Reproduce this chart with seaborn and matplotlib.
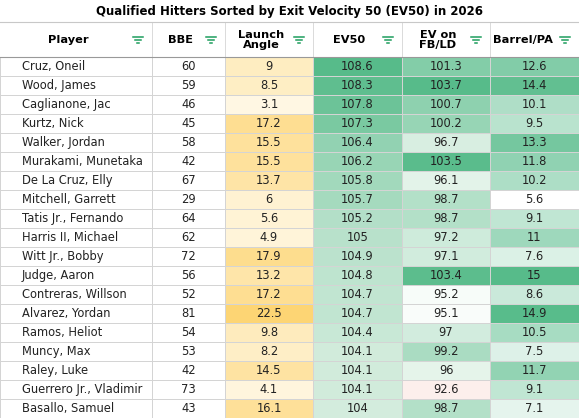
import matplotlib
matplotlib.use("Agg")
import matplotlib.pyplot as plt
import seaborn as sns
import numpy as np
import pandas as pd
from matplotlib.colors import LinearSegmentedColormap, ListedColormap
from matplotlib.lines import Line2D

players = ["Cruz, Oneil","Wood, James","Caglianone, Jac","Kurtz, Nick","Walker, Jordan",
           "Murakami, Munetaka","De La Cruz, Elly","Mitchell, Garrett","Tatis Jr., Fernando",
           "Harris II, Michael","Witt Jr., Bobby","Judge, Aaron","Contreras, Willson",
           "Alvarez, Yordan","Ramos, Heliot","Muncy, Max","Raley, Luke",
           "Guerrero Jr., Vladimir","Basallo, Samuel"]
bbe = [60,59,46,45,58,42,67,29,64,62,72,56,52,81,54,53,42,73,43]
launch = [9,8.5,3.1,17.2,15.5,15.5,13.7,6,5.6,4.9,17.9,13.2,17.2,22.5,9.8,8.2,14.5,4.1,16.1]
ev50 = [108.6,108.3,107.8,107.3,106.4,106.2,105.8,105.7,105.2,105,104.9,104.8,104.7,104.7,104.4,104.1,104.1,104.1,104]
evfb = [101.3,103.7,100.7,100.2,96.7,103.5,96.1,98.7,98.7,97.2,97.1,103.4,95.2,95.1,97,99.2,96,92.6,98.7]
barrel = [12.6,14.4,10.1,9.5,13.3,11.8,10.2,5.6,9.1,11,7.6,15,8.6,14.9,10.5,7.5,11.7,9.1,7.1]
headers = ["Player","BBE","Launch\nAngle","EV50","EV on\nFB/LD","Barrel/PA"]
title = "Qualified Hitters Sorted by Exit Velocity 50 (EV50) in 2026"

W, H = 579, 419
fig = plt.figure(figsize=(W/100, H/100), dpi=100)
edges = [0,152,225,313,402,490,579]
top, bot = 57, 418
n = len(players)

def fmt(v):
    return f"{v:g}"

white = ListedColormap(["#ffffff"])
cmaps = [
    (white, None, None),
    (white, None, None),
    (LinearSegmentedColormap.from_list("la", ["#fff7e3", "#fdd574"]), 3.1, 22.5),
    (LinearSegmentedColormap.from_list("ev", ["#d3ecdd", "#57bb8a"]), 104, 108.6),
    (LinearSegmentedColormap.from_list("fb", [(0, "#fcefec"), (0.2, "#ffffff"), (0.3, "#e6f4eb"), (1, "#57bb8a")]), 92.6, 103.7),
    (LinearSegmentedColormap.from_list("br", ["#ffffff", "#57bb8a"]), 5.6, 15),
]
cols = [None, bbe, launch, ev50, evfb, barrel]

for j in range(6):
    x0, x1 = edges[j], edges[j+1]
    ax = fig.add_axes([x0/W, 1-bot/H, (x1-x0)/W, (bot-top)/H])
    cmap, vmin, vmax = cmaps[j]
    if j == 0:
        data = pd.DataFrame({"v": np.zeros(n)})
        sns.heatmap(data, ax=ax, cmap=white, cbar=False, linewidths=0.6, linecolor="#d4d4d4")
        for i, p in enumerate(players):
            ax.text(0.145, i+0.5, p, ha="left", va="center", fontsize=8.3, color="#222222")
    else:
        data = pd.DataFrame({"v": cols[j]})
        annot = np.array([[fmt(v)] for v in cols[j]])
        sns.heatmap(data, ax=ax, cmap=cmap, vmin=vmin, vmax=vmax, cbar=False,
                    annot=annot, fmt="", annot_kws={"fontsize": 8.3, "color": "#222222"},
                    linewidths=0.6, linecolor="#d4d4d4")
    ax.set_xticks([]); ax.set_yticks([])
    ax.set_xlabel(""); ax.set_ylabel("")

fig.text(0.5, 1-11/H, title, ha="center", va="center", fontsize=8.5, fontweight="bold")
for j in range(6):
    x0, x1 = edges[j], edges[j+1]
    cx = (x0+x1)/2 - (12 if j == 5 else 8)
    fig.text(cx/W, 1-40/H, headers[j], ha="center", va="center", fontsize=8.2,
             fontweight="bold", linespacing=1.1)
    ix = x1 - 14
    for k, (w, dy) in enumerate([(10, -3), (6, 0), (2, 3)]):
        fig.add_artist(Line2D([(ix-w/2)/W, (ix+w/2)/W], [1-(40+dy)/H]*2, color="#1e9e5e", lw=1.1))
    if j > 0:
        fig.add_artist(Line2D([x0/W]*2, [1-top/H, 1-22/H], color="#d4d4d4", lw=0.6))
for y in [22, 57]:
    fig.add_artist(Line2D([0, 1], [1-y/H]*2, color="#c8c8c8" if y == 22 else "#999999", lw=0.8))

fig.savefig("out.png", dpi=100)
